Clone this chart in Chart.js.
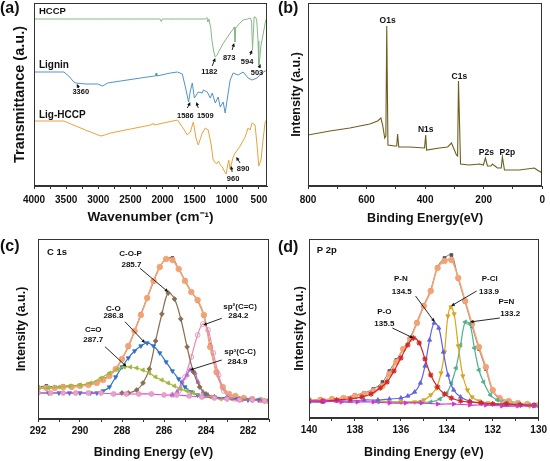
<!DOCTYPE html>
<html><head><meta charset="utf-8">
<script src="https://cdn.jsdelivr.net/npm/chart.js@4.4.0/dist/chart.umd.min.js"></script>
<style>
html,body{margin:0;padding:0;background:#fff;width:550px;height:461px;overflow:hidden}
canvas{position:absolute}
</style></head><body>
<canvas id="ca" width="275" height="225" style="left:0;top:0"></canvas>
<canvas id="cb" width="275" height="225" style="left:275px;top:0"></canvas>
<canvas id="cc" width="275" height="236" style="left:0;top:225px"></canvas>
<canvas id="cd" width="275" height="236" style="left:275px;top:225px"></canvas>
<script>
// ---------- DATA ----------
// (a) FTIR
const ftirTicks = [4000,3750,3500,3250,3000,2750,2500,2250,2000,1750,1500,1250,1000,750,500];
const ftirLabels = [4000,3500,3000,2500,2000,1500,1000,500];
const hccpWn = [4000,3500,3000,2500,2100,2040,2020,2005,1800,1500,1330,1310,1295,1280,1250,1232,1205,1182,1150,1129,1052,948,900,885,873,862,824,747,680,638,615,600,590,576,555,535,515,503,490,470,432,400,375];
const hccpT  = [167,167,167,167,167,167,164.5,167,167,167,167,168.5,164,167,158,146,135,129,131,134,143,153,157,159,144,158,161,166,167,168,165,136,150,169,169,166,145,121,126,140,153,164,169];
const ligWn = [4000,3535,3460,3380,3350,3194,3009,2931,2854,2652,2342,2130,2110,2100,2090,1878,1769,1692,1645,1595,1568,1537,1505,1444,1382,1366,1304,1258,1227,1180,1134,1103,1057,1026,979,948,902,824,747,669,607,530,453,375];
const ligT  = [114,114,110,104,103,102,102,100,103,105,108,110,110,113,110,113,114,112,99,84,95,103,88,94,93,96,94,88,93,83,89,79,84,73,93,106,113,111,114,108,106,108,113,116];
const lhWn = [4000,3535,3427,3200,2962,2900,2807,2497,2187,2150,2140,2130,1769,1692,1614,1568,1521,1480,1444,1382,1335,1289,1240,1215,1190,1160,1130,1100,1070,1040,1010,990,970,950,930,905,880,793,716,669,638,607,561,530,503,468,437,406,375];
const lhT  = [65,65,62,56,50,51,53,57,61,62,63,61,66,59,51,54,64,48,41,53,58,56,40,27,24,22,25,21,19,15,12,20,26,17,22,28,32,40,49,58,56,63,61,41,20,26,46,63,67];
// (b) XPS survey
const surTicks = [800,700,600,500,400,300,200,100,0];
const surLabels = [800,600,400,200,0];
const surE = [800,725,657,589,562,551,545,538,534,531,527,504,497,494,490,453,402,398,395,351,323,310,300,293,289,286,279,249,214,201,194,187,175,170,153,140,136,129,78,27,17,0];
const surI = [51,55,58,62,65,68,61,48,50,160,41,40,40,52,39,39,38,51,36,38,39,43,36,31,30,105,22,21,22,21,28,20,20,22,18,18,29,16,16,18,16,13];
// (c) C 1s
const c1sTicks = [292,291,290,289,288,287,286,285,284,283,282,281];
const c1sLabels = [292,290,288,286,284,282];
const c1sE = [292,291.6,291.2,290.8,290.4,290.0,289.6,289.2,288.9,288.6,288.3,288.0,287.7,287.4,287.1,286.8,286.5,286.2,285.9,285.6,285.3,285.0,284.7,284.4,284.1,283.8,283.5,283.2,282.9,282.6,282.2,281.8,281.4,281.0];
const c1sRaw = [32,33,32,33,33,34,35,37,40,44,50,60,72,88,105,121,137,152,160,161,150,139,127,118,103,74,46,31,25,22,20,19,19,17];
const c1sFit = [31,31,31,32,32,33,34,36,39,43,50,60,73,88,104,121,138,152,160,159,150,138,127,119,104,72,47,32,25,23,21,20,19,18];
const coE = [292,291.5,291,290.5,290,289.5,289.2,288.9,288.6,288.3,288.0,287.7,287.4,287.1,286.8,286.5,286.2,285.9,285.6,285.3,285.0,284.7,284.4,284.1,283.6,283.0,282.5,282.0,281.5,281.0];
const coI = [26,26,26,26,26,26,26,28,32,42,52,61,68,73,76,73,66,57,48,40,32,27,24,23,22,21,20,19,19,18];
const cdoE = [292,291.5,291,290.5,290,289.5,289,288.6,288.2,287.9,287.6,287.3,287.0,286.7,286.4,286.1,285.8,285.5,285.2,284.9,284.6,284.2,283.8,283.3,282.8,282.3,281.8,281.3];
const cdoI = [31,31,32,33,34,36,41,46,50,52,52,51,49,46,42,39,36,33,30,28,26,23,22,20,20,19,19,18];
const copE = [288.0,287.7,287.3,287.0,286.7,286.4,286.1,285.8,285.5,285.2,284.9,284.6,284.3,284.0,283.6,283.0,282.4,281.8,281.2];
const copI = [26,26,29,36,50,78,105,126,120,100,72,47,32,25,22,21,20,19,18];
const sp2E = [285.6,285.3,285.0,284.7,284.4,284.15,283.9,283.65,283.4,283.15,282.9,282.6];
const sp2I = [24,28,42,62,84,95,89,66,44,28,22,20];
const sp3E = [285.6,285.38,285.14,284.9,284.76,284.52,284.38,284.14,283.9,283.6];
const sp3I = [24,27,37,44,49,46,37,27,24,22];
const cbgE = [292,291.4,290.8,290.2,289.6,289.0,288.4,287.8,287.2,286.6,286.0,285.4,284.8,284.2,283.6,283.0,282.4,281.8,281.2];
const cbgI = [26,26,26,26,26,26,25,25,25,25,24,24,23,22,21,20,19,19,18];
// (d) P 2p
const p2pTicks = [140,139,138,137,136,135,134,133,132,131,130];
const p2pLabels = [140,138,136,134,132,130];
const p2pE = [140,139.5,139,138.5,138,137.6,137.2,136.8,136.5,136.2,135.9,135.6,135.3,135.0,134.7,134.4,134.1,133.8,133.5,133.2,132.9,132.6,132.3,132.0,131.7,131.3,130.9,130.5,130.0];
const p2pRaw = [17,19,18,20,23,25,29,36,47,58,69,80,96,113,128,151,160,163,139,116,92,69,49,27,19,16,15,13,12];
const p2pFit = [18,18,19,20,22,24,27,32,44,56,69,79,95,112,127,150,157,158,140,117,94,71,51,28,20,17,15,14,13];
const poE = [140,139.4,138.8,138.2,137.7,137.3,136.9,136.6,136.3,136.0,135.7,135.45,135.2,134.95,134.7,134.4,134.1,133.8,133.4,133.0,132.5,132.0,131.4,130.8,130.2];
const poI = [17,17,18,19,21,24,30,36,47,60,73,80,75,59,43,31,24,20,17,16,15,14,14,13,13];
const pnE = [140,139.4,138.8,138.2,137.6,137.0,136.5,136.0,135.7,135.4,135.15,134.95,134.75,134.55,134.35,134.15,133.95,133.7,133.4,133.0,132.5,132.0,131.4,130.8,130.2];
const pnI = [16,16,17,17,18,18,19,20,22,26,35,52,78,95,90,66,43,28,21,17,15,14,13,13,12];
const pclE = [137.0,136.0,135.4,135.0,134.7,134.45,134.25,134.1,133.95,133.82,133.68,133.5,133.3,133.1,132.9,132.6,132.2,131.6,131.0,130.4];
const pclI = [17,16,16,18,23,30,45,66,102,111,104,72,42,28,21,17,15,14,13,12];
const pdnE = [137,136,135.2,134.7,134.3,134.0,133.8,133.6,133.4,133.2,133.0,132.8,132.6,132.4,132.1,131.8,131.4,130.9,130.4,130.0];
const pdnI = [16,16,16,16,19,25,35,50,73,96,94,70,48,36,23,18,15,14,13,12];
const pbgE = [140,139.3,138.6,137.9,137.2,136.5,135.8,135.1,134.4,133.7,133.0,132.3,131.6,130.9,130.2];
const pbgI = [17,17,16,16,16,15,15,15,14,14,13,13,12,12,12];

// ---------- HELPERS ----------
const FONT = "'Liberation Sans', Arial, sans-serif";
const INK = '#111';
function pts(xs, ys){ return xs.map((x,i)=>({x:x, y:ys[i]})); }
function line(xs, ys, color, extra){
  return Object.assign({data: pts(xs, ys), borderColor: color, backgroundColor: color,
    borderWidth: 1, pointRadius: 0, tension: 0, fill: false}, extra || {});
}
function mk(xs, ys, color, style, extra){
  return line(xs, ys, color, Object.assign({tension: 0.35, borderWidth: 1.2, pointStyle: style,
    pointRadius: 2.4, pointBorderWidth: 0.8, pointBackgroundColor: color, pointBorderColor: color}, extra || {}));
}
function xAxis(min, max, tickVals, majors, title, height, labelPad, titlePad, tsize){
  return {type:'linear', reverse:true, min:min, max:max,
    afterBuildTicks: s => { s.ticks = tickVals.map(v => ({value: v})); },
    afterFit: s => { s.height = height; },
    ticks:{autoSkip:false, maxRotation:0, minRotation:0, padding:labelPad, color:INK,
      font:{family:FONT, size:10, weight:'bold'},
      callback: v => majors.indexOf(v) >= 0 ? String(v) : ''},
    grid:{display:true, drawOnChartArea:false, drawTicks:true, tickLength:3, color:'#333'},
    border:{display:true, color:'#333'},
    title:{display:true, text:title, color:INK, font:{family:FONT, size:tsize || 12, weight:'bold', lineHeight:1.1},
      padding:{top:0, bottom:titlePad}}};
}
function yAxis(min, max, title, width, titlePad, tsize){
  return {type:'linear', min:min, max:max, afterFit: s => { s.width = width; },
    ticks:{display:false}, grid:{display:false, drawTicks:false}, border:{display:false},
    title:{display:true, text:title, color:INK, font:{family:FONT, size:tsize || 12, weight:'bold', lineHeight:1.1},
      padding:{top:titlePad, bottom:0}}};
}
const deco = {
  id:'deco',
  afterDraw(chart, args, o){
    const ctx = chart.ctx, a = chart.chartArea, sx = chart.scales.x, sy = chart.scales.y;
    ctx.save();
    ctx.strokeStyle = '#333'; ctx.lineWidth = 1;
    ctx.strokeRect(Math.round(a.left)+0.5, Math.round(a.top)+0.5, Math.round(a.right-a.left)-1, Math.round(a.bottom-a.top)-1);
    ctx.fillStyle = INK; ctx.strokeStyle = INK;
    (o.arrows || []).forEach(r => {
      const x1 = sx.getPixelForValue(r[0]), y1 = sy.getPixelForValue(r[1]);
      const x2 = sx.getPixelForValue(r[2]), y2 = sy.getPixelForValue(r[3]);
      const ang = Math.atan2(y2-y1, x2-x1), h = 4;
      ctx.lineWidth = 0.9;
      ctx.beginPath(); ctx.moveTo(x1,y1); ctx.lineTo(x2 - Math.cos(ang)*h*0.8, y2 - Math.sin(ang)*h*0.8); ctx.stroke();
      ctx.beginPath(); ctx.moveTo(x2,y2);
      ctx.lineTo(x2 - h*Math.cos(ang-0.45), y2 - h*Math.sin(ang-0.45));
      ctx.lineTo(x2 - h*Math.cos(ang+0.45), y2 - h*Math.sin(ang+0.45));
      ctx.closePath(); ctx.fill();
    });
    ctx.textBaseline = 'middle';
    (o.texts || []).forEach(t => {
      ctx.font = 'bold ' + (t.s || 8) + 'px ' + FONT;
      ctx.textAlign = t.a || 'center';
      ctx.fillText(t.t, sx.getPixelForValue(t.x), sy.getPixelForValue(t.y));
    });
    if (o.letter){
      ctx.font = 'bold 16px ' + FONT; ctx.textAlign = 'left';
      ctx.fillText(o.letter[0], o.letter[1], o.letter[2]);
    }
    ctx.restore();
  }
};
function base(pad, scales, decoOpts){
  return {responsive:false, animation:false, events:[],
    layout:{padding:pad}, scales:scales,
    plugins:{legend:{display:false}, tooltip:{enabled:false}, deco:decoOpts}};
}

// ---------- (a) ----------
new Chart(document.getElementById('ca'), {
  type:'line', plugins:[deco],
  data:{datasets:[
    line(hccpWn, hccpT, '#86b986'),
    line(ligWn, ligT, '#4f93cf'),
    line(lhWn, lhT, '#e9a23a')
  ]},
  options: base({left:0, top:3, right:8, bottom:0}, {
    x: xAxis(375, 4000, ftirTicks, ftirLabels, 'Wavenumber (cm\u207B\u00B9)', 39, 5, 0, 13.5),
    y: yAxis(0, 183, 'Transmittance (a.u.)', 34, 12, 14.5)
  }, {
    letter:['(a)', 0, 9],
    texts:[
      {t:'HCCP', x:3923, y:175, s:9.5, a:'left'},
      {t:'Lignin', x:3923, y:121, s:10, a:'left'},
      {t:'Lig-HCCP', x:3923, y:71, s:10, a:'left'},
      {t:'1182', x:1273, y:114, s:7.5}, {t:'873', x:964, y:128, s:7.5},
      {t:'594', x:685, y:124, s:7.5}, {t:'503', x:530, y:113, s:7.5},
      {t:'3360', x:3272, y:94, s:7.5}, {t:'1586', x:1645, y:70.5, s:7.5},
      {t:'1509', x:1335, y:70.5, s:7.5}, {t:'960', x:902, y:7, s:7.5},
      {t:'890', x:747, y:17, s:7.5}
    ],
    arrows:[[1227,120,1180,128],[917,136,886,143],[638,131,607,136],[499,118,476,122],
      [3303,98,3334,102],[1614,78,1568,84],[1444,78,1475,84],[917,14,933,20],[793,23,855,29]]
  })
});

// ---------- (b) ----------
new Chart(document.getElementById('cb'), {
  type:'line', plugins:[deco],
  data:{datasets:[ line(surE, surI, '#6e5e1e', {borderWidth:1.1}) ]},
  options: base({left:0, top:3, right:7, bottom:0}, {
    x: xAxis(0, 800, surTicks, surLabels, 'Binding Energy(eV)', 39, 5, 0, 12.5),
    y: yAxis(0, 183, 'Intensity (a.u.)', 33, 15, 12.5)
  }, {
    letter:['(b)', 3, 9],
    texts:[
      {t:'O1s', x:528, y:165, s:8.5}, {t:'N1s', x:398, y:56, s:8.5},
      {t:'C1s', x:283, y:109, s:8.5}, {t:'P2s', x:191, y:33, s:8.5},
      {t:'P2p', x:119, y:33, s:8.5}
    ]
  })
});

// ---------- (c) ----------
new Chart(document.getElementById('cc'), {
  type:'line', plugins:[deco],
  data:{datasets:[
    mk(cbgE, cbgI, '#d94ccf', 'circle', {pointBackgroundColor:'#eaa3c8', pointBorderColor:'#e48fbf'}),
    mk(cdoE, cdoI, '#9fb83a', 'triangle', {pointRotation:270}),
    mk(coE, coI, '#2f72c9', 'triangle', {pointRotation:180}),
    mk(copE, copI, '#8a6d52', 'rectRot'),
    mk(sp3E, sp3I, '#b66ad6', 'triangle'),
    mk(sp2E, sp2I, '#e58cb0', 'circle', {pointBackgroundColor:'rgba(255,255,255,0)'}),
    mk(c1sE, c1sFit, '#f2a273', 'circle', {borderWidth:1.6, pointRadius:2.8}),
    mk(c1sE, c1sRaw, '#2a2a2a', 'rect', {borderWidth:0.7, pointRadius:1.9})
  ]},
  options: base({left:0, top:14, right:6, bottom:0}, {
    x: xAxis(281, 292, c1sTicks, c1sLabels, 'Binding Energy (eV)', 42, 3, 2, 12.5),
    y: yAxis(0, 180, 'Intensity (a.u.)', 38, 15, 12.5)
  }, {
    letter:['(c)', 0, 22],
    texts:[
      {t:'C 1s', x:291.57, y:167, s:9.5, a:'left'},
      {t:'C-O-P', x:287.59, y:165}, {t:'285.7', x:287.55, y:154},
      {t:'C-O', x:288.41, y:110.7}, {t:'286.8', x:288.41, y:103},
      {t:'C=O', x:289.37, y:89}, {t:'287.7', x:289.37, y:79},
      {t:'sp\u00B2(C=C)', x:282.38, y:112.3}, {t:'284.2', x:282.46, y:103},
      {t:'sp\u00B3(C-C)', x:282.38, y:67.3}, {t:'284.9', x:282.5, y:57.3}
    ],
    arrows:[[287.14,150.7,285.8,127],[287.86,97.3,286.9,76],[288.81,72.3,287.78,52.3],
      [283.25,100.7,284.13,94],[283.25,59,284.76,49]]
  })
});

// ---------- (d) ----------
new Chart(document.getElementById('cd'), {
  type:'line', plugins:[deco],
  data:{datasets:[
    mk(pbgE, pbgI, '#cf33cf', 'triangle', {pointRotation:90}),
    mk(poE, poI, '#d42323', 'star', {pointRadius:2.8, pointBorderWidth:1.1}),
    mk(pnE, pnI, '#6262e0', 'triangle'),
    mk(pclE, pclI, '#d8a51e', 'triangle', {pointRotation:180}),
    mk(pdnE, pdnI, '#4eb28c', 'triangle', {pointRotation:270}),
    mk(p2pE, p2pFit, '#f2a273', 'circle', {borderWidth:1.6, pointRadius:2.8}),
    mk(p2pE, p2pRaw, '#555555', 'rect', {borderWidth:0.8, pointRadius:2})
  ]},
  options: base({left:0, top:14, right:9, bottom:0}, {
    x: xAxis(130, 140, p2pTicks, p2pLabels, 'Binding Energy (eV)', 43, 3, 2, 12.5),
    y: yAxis(0, 179, 'Intensity (a.u.)', 34, 18, 12.5)
  }, {
    letter:['(d)', 3, 23],
    texts:[
      {t:'P 2p', x:139.66, y:168, s:9.5, a:'left'},
      {t:'P-O', x:136.72, y:106}, {t:'135.5', x:136.72, y:94},
      {t:'P-N', x:136.0, y:139}, {t:'134.5', x:135.96, y:126},
      {t:'P-Cl', x:132.13, y:139}, {t:'133.9', x:132.16, y:126},
      {t:'P=N', x:131.41, y:116}, {t:'133.2', x:131.24, y:104}
    ],
    arrows:[[136.37,90,135.46,80],[135.36,122,134.53,96],[132.7,127,133.81,112],[131.69,100,132.99,96]]
  })
});
</script>
</body></html>
